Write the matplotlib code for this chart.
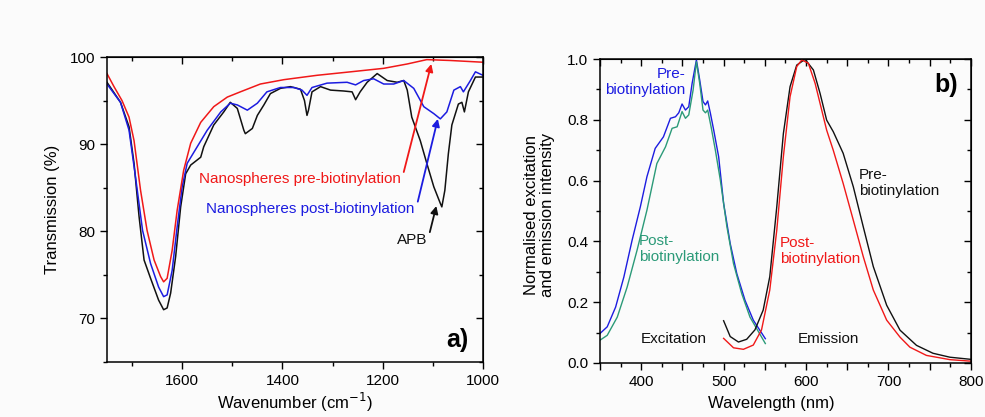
import numpy as np
import matplotlib
matplotlib.use('Agg')
import matplotlib.pyplot as plt
from matplotlib.ticker import MultipleLocator, FuncFormatter

plt.rcParams['font.family'] = ['Liberation Sans', 'DejaVu Sans']

# ---- panel a) FTIR transmission ----
wn_apb = [1750, 1723, 1706, 1696, 1686, 1676, 1663, 1647, 1637, 1630, 1623, 1613, 1603, 1593,
          1583, 1563, 1557, 1537, 1517, 1504, 1490, 1477, 1474, 1460, 1450, 1437, 1424, 1404,
          1384, 1364, 1356, 1351, 1348, 1341, 1324, 1304, 1278, 1261, 1254, 1245, 1231, 1211,
          1191, 1171, 1158, 1151, 1142, 1125, 1112, 1098, 1085, 1082, 1076, 1069, 1062, 1049,
          1042, 1037, 1029, 1015, 1000]
t_apb = [97.1, 94.8, 92.0, 87.8, 81.7, 76.7, 74.6, 72.1, 71.0, 71.2, 72.9, 77.1, 82.8, 86.6,
         87.6, 88.5, 89.7, 92.2, 93.7, 94.8, 94.1, 91.6, 91.2, 91.8, 93.3, 94.5, 95.8, 96.4,
         96.6, 96.3, 95.0, 93.3, 93.9, 96.0, 96.6, 96.2, 96.1, 96.0, 95.1, 96.0, 97.1, 98.1,
         97.3, 97.1, 97.3, 96.2, 93.1, 90.4, 87.8, 85.1, 83.2, 82.8, 84.7, 88.9, 92.2, 94.6,
         94.8, 93.7, 96.0, 97.7, 97.7]

wn_post = [1750, 1723, 1706, 1693, 1679, 1663, 1647, 1637, 1630, 1620, 1610, 1600, 1590, 1570,
           1550, 1523, 1504, 1490, 1470, 1450, 1431, 1404, 1377, 1361, 1351, 1341, 1311, 1271,
           1254, 1238, 1218, 1198, 1178, 1158, 1138, 1118, 1098, 1085, 1072, 1058, 1045, 1039,
           1025, 1015, 1000]
t_post = [96.9, 94.8, 91.6, 86.2, 80.1, 76.3, 73.6, 72.5, 72.7, 75.5, 80.5, 85.1, 87.8, 89.7,
          91.6, 93.7, 94.7, 94.5, 93.9, 94.7, 96.0, 96.5, 96.5, 96.2, 95.6, 96.5, 97.0, 97.1,
          96.8, 97.3, 97.5, 96.9, 96.9, 97.3, 96.4, 94.3, 93.5, 92.9, 93.7, 96.2, 96.6, 96.0,
          97.3, 98.3, 97.9]

wn_pre = [1750, 1736, 1720, 1706, 1696, 1683, 1670, 1656, 1643, 1637, 1630, 1620, 1610, 1597,
          1583, 1563, 1537, 1510, 1484, 1444, 1397, 1331, 1264, 1198, 1151, 1112, 1065, 1000]
t_pre = [98.1, 96.6, 95.0, 93.1, 90.4, 84.7, 80.1, 76.7, 74.8, 74.2, 74.6, 77.8, 82.4, 87.0,
         90.1, 92.5, 94.3, 95.4, 96.0, 96.9, 97.4, 97.9, 98.3, 98.7, 99.2, 99.7, 99.6, 99.4]

# ---- panel b) excitation / emission ----
wl_exc_pre = [350, 358.8, 369, 379, 389, 399, 407, 417, 427, 435.5, 441.6, 445.6, 449.6, 453.7,
              457.7, 461.8, 467, 471, 475, 478, 480.7, 484, 488, 494, 500, 508, 516, 526, 536,
              550.6]
i_exc_pre = [0.097, 0.119, 0.184, 0.283, 0.404, 0.514, 0.613, 0.706, 0.744, 0.805, 0.810, 0.823,
             0.852, 0.832, 0.843, 0.920, 0.997, 0.931, 0.860, 0.849, 0.862, 0.821, 0.766, 0.678,
             0.525, 0.393, 0.294, 0.206, 0.141, 0.080]

wl_exc_post = [350, 358.8, 371, 383, 395, 407, 419, 429.5, 437.5, 443.6, 449.6, 453.7, 457.7, 463,
               467, 471, 475, 478, 480.7, 484.8, 490, 496, 504, 512, 522, 532, 550.6]
i_exc_post = [0.075, 0.091, 0.151, 0.250, 0.371, 0.503, 0.656, 0.711, 0.772, 0.777, 0.827, 0.805,
              0.816, 0.898, 0.991, 0.920, 0.832, 0.823, 0.832, 0.777, 0.700, 0.602, 0.448, 0.327,
              0.228, 0.151, 0.064]

wl_em_pre = [500, 508, 518, 528, 538, 548, 556, 564.5, 572.5, 580.6, 588.7, 598.8, 608.9, 617,
             625, 633, 645, 657.3, 669.4, 681.6, 697.8, 714, 734, 754, 774.6, 800]
i_em_pre = [0.139, 0.087, 0.069, 0.078, 0.109, 0.174, 0.284, 0.514, 0.755, 0.909, 0.980, 0.999,
            0.964, 0.887, 0.799, 0.761, 0.690, 0.580, 0.448, 0.317, 0.190, 0.108, 0.058, 0.032,
            0.019, 0.012]

wl_em_post = [500, 512, 524, 536, 546, 556, 564.5, 572.5, 580.6, 588.7, 594.8, 602.8, 611, 619,
              625, 633, 645, 657.3, 669.4, 681.6, 697.8, 714, 726, 746, 774.6, 800]
i_em_post = [0.081, 0.050, 0.045, 0.059, 0.109, 0.240, 0.437, 0.679, 0.876, 0.975, 0.997, 0.986,
             0.920, 0.832, 0.766, 0.700, 0.591, 0.470, 0.350, 0.240, 0.141, 0.085, 0.052, 0.025,
             0.011, 0.006]

RED = '#f01818'
BLUE = '#1c1ce0'
GREEN = '#2b9a78'
BLACK = '#111111'

fig = plt.figure(figsize=(9.85, 4.17), dpi=100, facecolor='#fbfbfb')
ax1 = fig.add_axes([0.1086, 0.1319, 0.3817, 0.7314], facecolor='#fbfbfb')
ax2 = fig.add_axes([0.6091, 0.1295, 0.3766, 0.7290], facecolor='#fbfbfb')


def style_axes(ax, xmaj, xmin, ymaj, ymin, xfmt=None):
    ax.xaxis.set_major_locator(MultipleLocator(xmaj))
    ax.xaxis.set_minor_locator(MultipleLocator(xmin))
    ax.yaxis.set_major_locator(MultipleLocator(ymaj))
    ax.yaxis.set_minor_locator(MultipleLocator(ymin))
    if xfmt is not None:
        ax.xaxis.set_major_formatter(xfmt)
    ax.tick_params(which='both', direction='out', labelsize=11, width=1.0)
    ax.tick_params(which='major', length=5)
    ax.tick_params(which='minor', length=3)
    for s in ax.spines.values():
        s.set_linewidth(1.1)
    # inward ticks on top and right
    top = ax.secondary_xaxis('top')
    top.xaxis.set_major_locator(MultipleLocator(xmaj))
    top.xaxis.set_minor_locator(MultipleLocator(xmin))
    top.tick_params(which='both', direction='in', labeltop=False, width=1.0)
    top.tick_params(which='major', length=5)
    top.tick_params(which='minor', length=3)
    right = ax.secondary_yaxis('right')
    right.yaxis.set_major_locator(MultipleLocator(ymaj))
    right.yaxis.set_minor_locator(MultipleLocator(ymin))
    right.tick_params(which='both', direction='in', labelright=False, width=1.0)
    right.tick_params(which='major', length=5)
    right.tick_params(which='minor', length=3)


# panel a
ax1.plot(wn_apb, t_apb, color=BLACK, lw=1.1)
ax1.plot(wn_post, t_post, color=BLUE, lw=1.1)
ax1.plot(wn_pre, t_pre, color=RED, lw=1.1)
ax1.set_xlim(1750, 1000)
ax1.set_ylim(65, 100)
style_axes(ax1, 200, 100, 10, 5)
ax1.set_xlabel('Wavenumber (cm$^{-1}$)', fontsize=12)
ax1.set_ylabel('Transmission (%)', fontsize=12)
ax1.xaxis.set_label_coords(0.5, -0.095)
ax1.yaxis.set_label_coords(-0.125, 0.5)

arrow_kw = dict(arrowstyle='-|>', lw=1.3, mutation_scale=11, shrinkA=0, shrinkB=0)
ax1.text(1567, 86.05, 'Nanospheres pre-biotinylation', color=RED, fontsize=11, va='center')
ax1.annotate('', xy=(1103, 99.2), xytext=(1158, 86.8), arrowprops=dict(color=RED, **arrow_kw))
ax1.text(1553, 82.6, 'Nanospheres post-biotinylation', color=BLUE, fontsize=11, va='center')
ax1.annotate('', xy=(1090, 92.9), xytext=(1130, 83.4), arrowprops=dict(color=BLUE, **arrow_kw))
ax1.text(1171, 79.0, 'APB', color=BLACK, fontsize=11, va='center')
ax1.annotate('', xy=(1093, 82.9), xytext=(1106, 79.9), arrowprops=dict(color=BLACK, **arrow_kw))
ax1.text(0.962, 0.071, 'a)', transform=ax1.transAxes, fontsize=18, fontweight='bold',
         ha='right', va='center')

# panel b
ax2.plot(wl_exc_pre, i_exc_pre, color=BLUE, lw=1.0)
ax2.plot(wl_exc_post, i_exc_post, color=GREEN, lw=1.0)
ax2.plot(wl_em_pre, i_em_pre, color=BLACK, lw=1.0)
ax2.plot(wl_em_post, i_em_post, color=RED, lw=1.0)
ax2.set_xlim(350, 800)
ax2.set_ylim(0, 1.0)
hundreds = FuncFormatter(lambda v, p: '%d' % v if abs(v % 100) < 1e-6 else '')
style_axes(ax2, 50, 25, 0.2, 0.1, xfmt=hundreds)
ax2.yaxis.set_major_formatter(FuncFormatter(lambda v, p: '%.1f' % v))
ax2.set_xlabel('Wavelength (nm)', fontsize=12)
ax2.set_ylabel('Normalised excitation\nand emission intensity', fontsize=12, linespacing=1.1)
ax2.xaxis.set_label_coords(0.463, -0.11)
ax2.yaxis.set_label_coords(-0.121, 0.487)

ax2.text(453.7, 0.925, 'Pre-\nbiotinylation', color=BLUE, fontsize=11, ha='right', va='center',
         multialignment='right')
ax2.text(397.2, 0.374, 'Post-\nbiotinylation', color=GREEN, fontsize=11, va='center')
ax2.text(399.2, 0.080, 'Excitation', color=BLACK, fontsize=11, va='center')
ax2.text(590.1, 0.080, 'Emission', color=BLACK, fontsize=11, va='center')
ax2.text(567.9, 0.369, 'Post-\nbiotinylation', color=RED, fontsize=11, va='center')
ax2.text(664.4, 0.591, 'Pre-\nbiotinylation', color=BLACK, fontsize=11, va='center')
ax2.text(0.966, 0.914, 'b)', transform=ax2.transAxes, fontsize=18, fontweight='bold',
         ha='right', va='center')

fig.savefig('out.png', dpi=100, facecolor=fig.get_facecolor())
